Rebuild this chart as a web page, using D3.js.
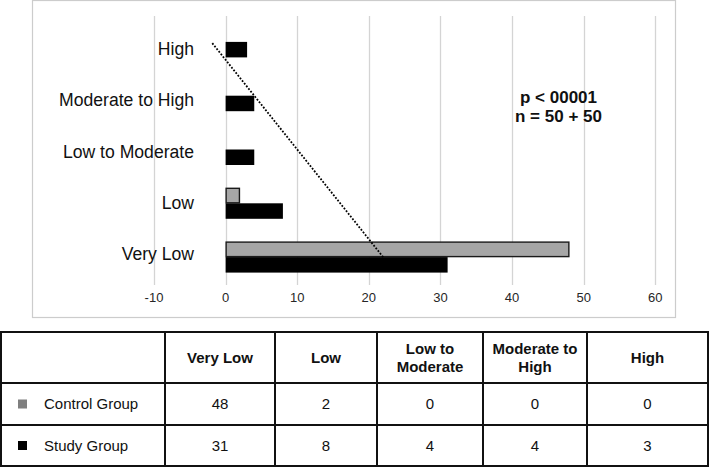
<!DOCTYPE html>
<html>
<head>
<meta charset="utf-8">
<script src="https://cdn.jsdelivr.net/npm/d3@7"></script>
<style>
  html, body { margin: 0; padding: 0; background: #fff; }
  svg { display: block; font-family: "Liberation Sans", Arial, sans-serif; }
</style>
</head>
<body>
<svg id="chart" width="709" height="468"></svg>
<script>
// ---- data ----
const categories = ["Very Low", "Low", "Low to Moderate", "Moderate to High", "High"];
const seriesNames = ["Control Group", "Study Group"];
const controlValues = [48, 2, 0, 0, 0];
const studyValues = [31, 8, 4, 4, 3];
const xTicks = [-10, 0, 10, 20, 30, 40, 50, 60];
const statLines = ["p < 00001", "n = 50 + 50"];

const seriesColors = { "Control Group": "#a6a6a6", "Study Group": "#000000" };
const markerColors = { "Control Group": "#7f7f7f", "Study Group": "#000000" };

const svg = d3.select("#chart");

// ---- chart frame ----
svg.append("rect")
  .attr("x", 32.5).attr("y", 0.5)
  .attr("width", 643).attr("height", 317)
  .attr("fill", "#fff").attr("stroke", "#cccccc").attr("stroke-width", 1.2);

const x = d3.scaleLinear().domain([-10, 60]).range([154, 655.3]);
const yOrder = categories.slice().reverse(); // High at top
const y = d3.scaleBand().domain(yOrder).range([15, 284]).paddingInner(0.424).paddingOuter(0.212);
const ySub = d3.scaleBand().domain(seriesNames).range([0, y.bandwidth()]);
const yLabel = d3.scalePoint().domain(yOrder).range([49, 254]);

// gridlines
svg.append("g").selectAll("line").data(xTicks).join("line")
  .attr("x1", d => Math.round(x(d)) + 0.5).attr("x2", d => Math.round(x(d)) + 0.5)
  .attr("y1", 16).attr("y2", 285)
  .attr("stroke", "#d4d4d4").attr("stroke-width", 1.3);

// x tick labels
svg.append("g").selectAll("text").data(xTicks).join("text")
  .attr("x", d => x(d)).attr("y", 302)
  .attr("text-anchor", "middle")
  .attr("font-size", 13).attr("fill", "#262626")
  .text(d => d);

// category labels
svg.append("g").selectAll("text").data(yOrder).join("text")
  .attr("x", 194).attr("y", d => yLabel(d))
  .attr("dy", "0.35em")
  .attr("text-anchor", "end")
  .attr("font-size", 17.6).attr("fill", "#111")
  .text(d => d);

// bars
const rows = categories.map((c, i) => ({ cat: c, values: [
  { s: "Control Group", v: controlValues[i] },
  { s: "Study Group", v: studyValues[i] }
]}));

const g = svg.append("g");
rows.forEach(r => {
  r.values.forEach(d => {
    if (d.v <= 0) return;
    const isControl = d.s === "Control Group";
    g.append("rect")
      .attr("x", x(0) + (isControl ? 0.5 : 0))
      .attr("y", y(r.cat) + ySub(d.s) + (isControl ? 0.5 : 0))
      .attr("width", x(d.v) - x(0) - (isControl ? 1 : 0))
      .attr("height", ySub.bandwidth() - (isControl ? 1 : 0))
      .attr("fill", seriesColors[d.s])
      .attr("stroke", isControl ? "#1a1a1a" : "none")
      .attr("stroke-width", isControl ? 1.4 : 0);
  });
});

// linear trendline of study group (least squares over category index)
const n = studyValues.length;
const idx = studyValues.map((_, i) => i + 1);
const mx = d3.mean(idx), my = d3.mean(studyValues);
const slope = d3.sum(idx.map((xi, i) => (xi - mx) * (studyValues[i] - my))) /
              d3.sum(idx.map(xi => (xi - mx) * (xi - mx)));
const intercept = my - slope * mx;
const trend = [categories[0], categories[n - 1]].map((c, k) => {
  const i = k === 0 ? 1 : n;
  return { cat: c, v: intercept + slope * i };
});
svg.append("path")
  .attr("d", d3.line().x(d => x(d.v)).y(d => y(d.cat) + y.bandwidth() / 2)(trend))
  .attr("fill", "none").attr("stroke", "#000").attr("stroke-width", 1.8)
  .attr("stroke-dasharray", "1.8,1.6");

// stats text
svg.append("g").selectAll("text").data(statLines).join("text")
  .attr("x", 558.5).attr("y", (d, i) => 97 + i * 19)
  .attr("dy", "0.35em")
  .attr("text-anchor", "middle")
  .attr("font-size", 17).attr("font-weight", "bold").attr("fill", "#111")
  .text(d => d);

// ---- data table ----
const colEdges = [1, 165, 275, 377, 483, 587, 708];
const rowEdges = [332, 383, 425, 466];
const tbl = svg.append("g");

// headers
categories.forEach((c, i) => {
  const cy = (rowEdges[0] + rowEdges[1]) / 2;
  const t = tbl.append("text")
    .attr("text-anchor", "middle")
    .attr("font-size", 15).attr("font-weight", "bold").attr("fill", "#111");
  const words = c.split(" ");
  let lines = [], cur = "";
  const probe = tbl.append("text").attr("font-size", 15).attr("font-weight", "bold");
  words.forEach(w => {
    const test = cur ? cur + " " + w : w;
    probe.text(test);
    if (probe.node().getComputedTextLength() > (colEdges[i + 2] - colEdges[i + 1]) - 14 && cur) {
      lines.push(cur); cur = w;
    } else cur = test;
  });
  lines.push(cur);
  probe.remove();
  const lh = 18;
  const colCx = (colEdges[i + 1] + colEdges[i + 2]) / 2;
  lines.forEach((ln, k) => {
    t.append("tspan")
      .attr("x", colCx)
      .attr("y", cy + (k - (lines.length - 1) / 2) * lh)
      .attr("dy", "0.35em")
      .text(ln);
  });
});

// body rows
const bodyData = [controlValues, studyValues];
seriesNames.forEach((s, r) => {
  const cy = (rowEdges[r + 1] + rowEdges[r + 2]) / 2;
  tbl.append("rect")
    .attr("x", 18).attr("y", cy - 4.5).attr("width", 9).attr("height", 9)
    .attr("fill", markerColors[s]);
  tbl.append("text")
    .attr("x", 44).attr("y", cy).attr("dy", "0.35em")
    .attr("font-size", 15).attr("fill", "#111")
    .text(s);
  bodyData[r].forEach((v, i) => {
    tbl.append("text")
      .attr("x", (colEdges[i + 1] + colEdges[i + 2]) / 2).attr("y", cy).attr("dy", "0.35em")
      .attr("text-anchor", "middle")
      .attr("font-size", 15).attr("fill", "#111")
      .text(v);
  });
});

// table rules
tbl.append("rect")
  .attr("x", colEdges[0]).attr("y", rowEdges[0])
  .attr("width", colEdges[colEdges.length - 1] - colEdges[0])
  .attr("height", rowEdges[rowEdges.length - 1] - rowEdges[0])
  .attr("fill", "none").attr("stroke", "#111").attr("stroke-width", 2);
colEdges.slice(1, -1).forEach(cx => {
  tbl.append("line").attr("x1", cx).attr("x2", cx)
    .attr("y1", rowEdges[0]).attr("y2", rowEdges[rowEdges.length - 1])
    .attr("stroke", "#111").attr("stroke-width", 2);
});
rowEdges.slice(1, -1).forEach(ry => {
  tbl.append("line").attr("x1", colEdges[0]).attr("x2", colEdges[colEdges.length - 1])
    .attr("y1", ry).attr("y2", ry)
    .attr("stroke", "#111").attr("stroke-width", 2);
});
</script>
</body>
</html>
